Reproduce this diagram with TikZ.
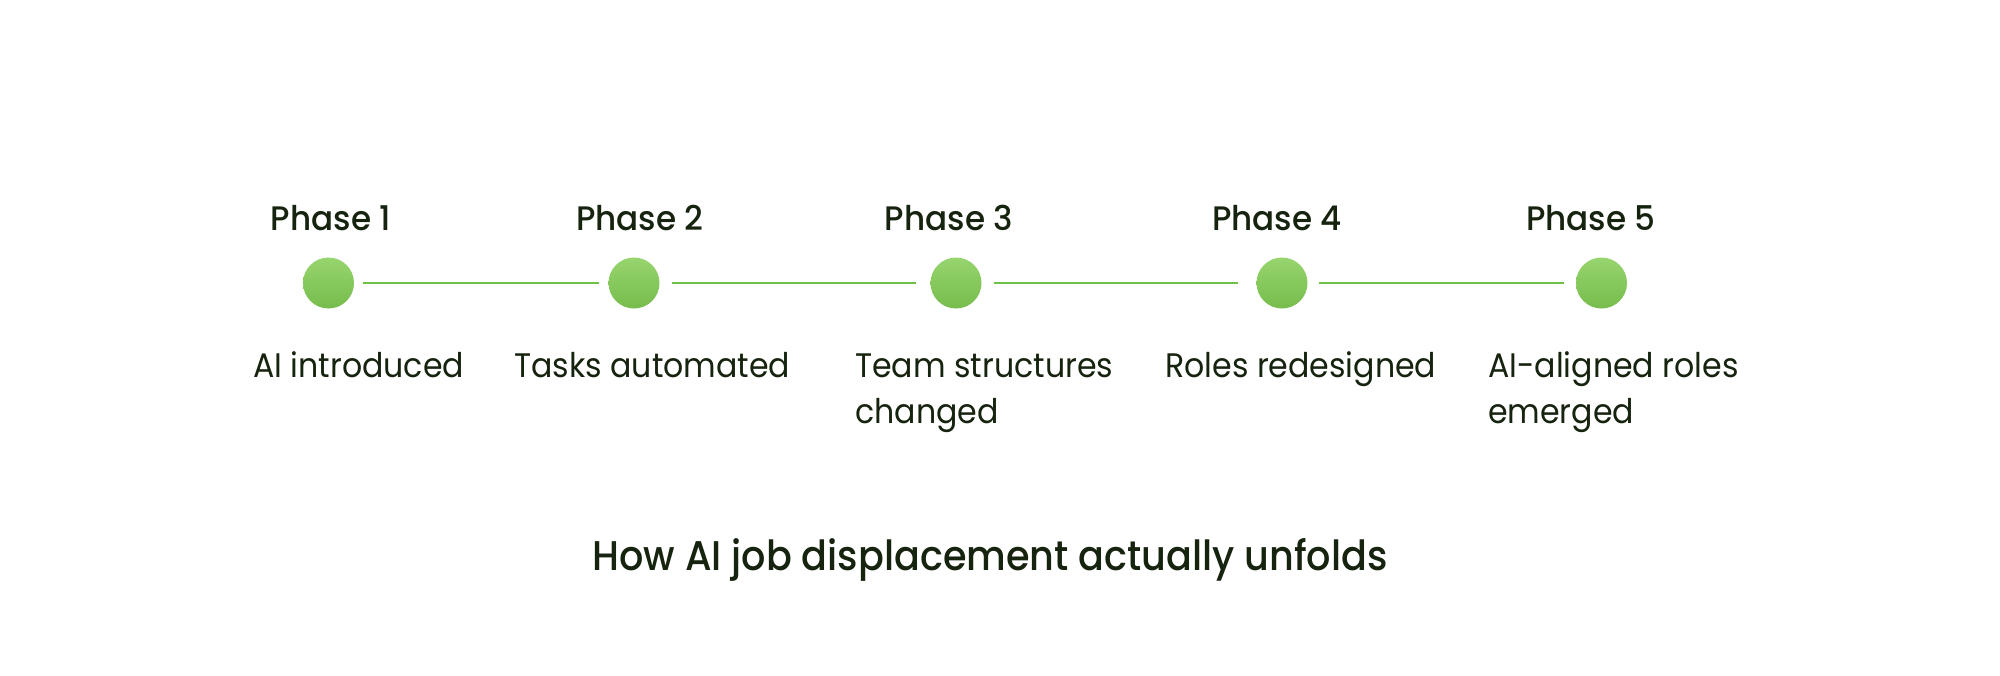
\documentclass[tikz,border=0pt]{standalone}
\usepackage{fontspec}
\setmainfont{Poppins}
\newfontfamily\pdesc{Poppins}[FakeStretch=0.93]
\newfontfamily\pphase{Poppins Medium}[FakeStretch=0.96]
\newfontfamily\ptitle{Poppins Medium}[FakeStretch=0.92]
\definecolor{ink}{HTML}{16230E}
\definecolor{gtop}{HTML}{97D56E}
\definecolor{gbot}{HTML}{76BC4C}
\definecolor{gline}{HTML}{6DC145}
\tikzset{
  dot/.style={circle, inner sep=0pt, minimum size=51pt, top color=gtop, bottom color=gbot, draw=none},
  phase/.style={font=\pphase\fontsize{34}{40}\selectfont, text=ink, anchor=base, inner sep=0pt},
  desc/.style={font=\pdesc\fontsize{34}{46}\selectfont, text=ink, anchor=base west, align=left, inner sep=0pt},
  title/.style={font=\ptitle\fontsize{41.5}{48}\selectfont, text=ink, anchor=base, inner sep=0pt},
  link/.style={draw=gline, line width=2pt}
}
\begin{document}
\begin{tikzpicture}[x=1pt,y=1pt]
\useasboundingbox[fill=white] (0,0) rectangle (2000,-675);
\node[dot] (c1) at (328.5,-283) {};
\node[dot] (c2) at (634,-283) {};
\node[dot] (c3) at (956,-283) {};
\node[dot] (c4) at (1282,-283) {};
\node[dot] (c5) at (1601.5,-283) {};
\draw[link, shorten <=9pt, shorten >=9pt] (c1) -- (c2);
\draw[link, shorten <=12pt, shorten >=14pt] (c2) -- (c3);
\draw[link, shorten <=12pt, shorten >=18pt] (c3) -- (c4);
\draw[link, shorten <=11pt, shorten >=12pt] (c4) -- (c5);
\node[phase] (p1) at (331,-230) {Phase 1};
\node[phase] (p2) at (640,-230) {Phase 2};
\node[phase] (p3) at (949,-230) {Phase 3};
\node[phase] (p4) at (1277,-230) {Phase 4};
\node[phase] (p5) at (1591,-230) {Phase 5};
\node[desc] (d1) at (253,-377) {AI introduced};
\node[desc] (d2) at (514,-377) {Tasks automated};
\node[desc] (d3) at (855,-423) {Team structures\\changed};
\node[desc] (d4) at (1165,-377) {Roles redesigned};
\node[desc] (d5) at (1488,-423) {AI-aligned roles\\emerged};
\node[title] (t) at (990,-570) {How AI job displacement actually unfolds};
\end{tikzpicture}
\end{document}
